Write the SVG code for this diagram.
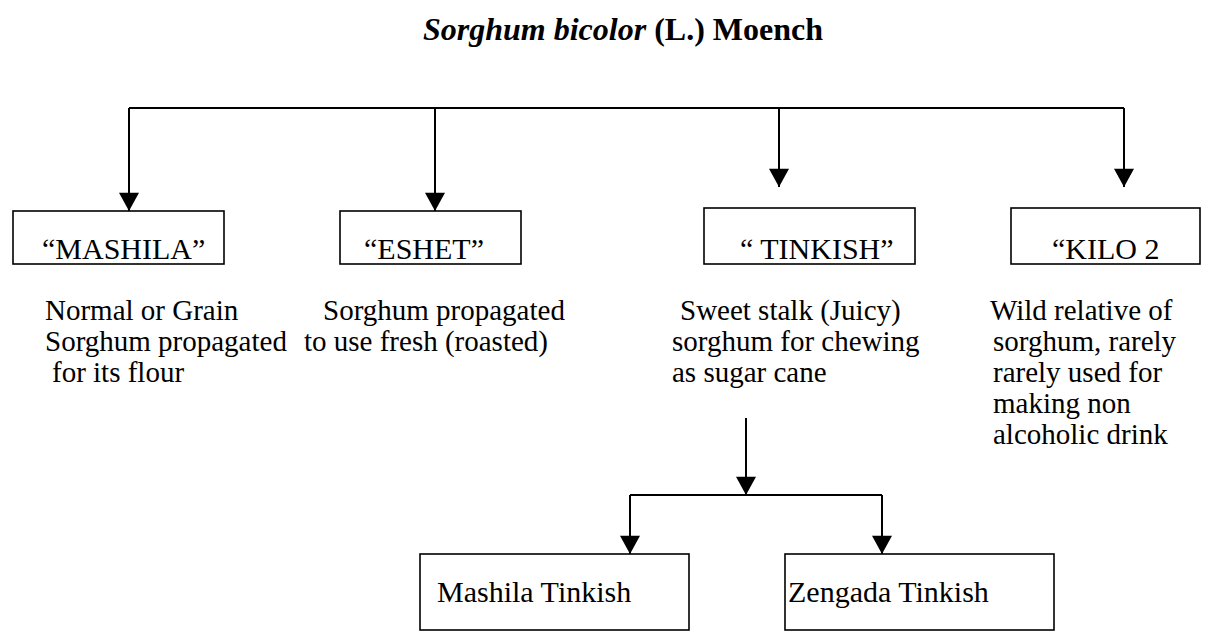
<svg xmlns="http://www.w3.org/2000/svg" width="1211" height="632" viewBox="0 0 1211 632" font-family="'Liberation Serif','Times New Roman',serif">
<defs>
<style>
.bx{fill:#fff;stroke:#000;stroke-width:1.6}
.t{font-family:'Liberation Serif','Times New Roman',serif;fill:#000}
.bt{font-size:30px}
.ds{font-size:29px}
.ttl{font-size:32px;font-weight:bold}
.cn{fill:none;stroke:#000;stroke-width:2}
</style>
<marker id="ah" viewBox="0 0 20 22" refX="20" refY="11" markerWidth="22" markerHeight="20" markerUnits="userSpaceOnUse" orient="auto">
<path d="M0,0 L20,11 L0,22 z" fill="#000"/>
</marker>
</defs>
<rect width="1211" height="632" fill="#fff"/>
<g id="title">
<text class="t ttl" x="623" y="40" text-anchor="middle"><tspan font-style="italic">Sorghum bicolor</tspan> (L.) Moench</text>
</g>
<g id="connectors">
<path class="cn" d="M129,108 H1124"/>
<path class="cn" d="M129,108 V211" marker-end="url(#ah)"/>
<path class="cn" d="M435,108 V211" marker-end="url(#ah)"/>
<path class="cn" d="M779,108 V187" marker-end="url(#ah)"/>
<path class="cn" d="M1124,108 V187" marker-end="url(#ah)"/>
<path class="cn" d="M746,418 V495" marker-end="url(#ah)"/>
<path class="cn" d="M630,495 H882"/>
<path class="cn" d="M630,495 V554" marker-end="url(#ah)"/>
<path class="cn" d="M882,495 V554" marker-end="url(#ah)"/>
</g>
<g id="mashila">
<rect class="bx" x="13" y="211" width="211" height="53"/>
<text class="t bt" x="42" y="259">“MASHILA”</text>
<text class="t ds"><tspan x="45" y="320">Normal or Grain</tspan><tspan x="45" y="351">Sorghum propagated</tspan><tspan x="52" y="382">for its flour</tspan></text>
</g>
<g id="eshet">
<rect class="bx" x="340" y="211" width="181" height="53"/>
<text class="t bt" x="364" y="259">“ESHET”</text>
<text class="t ds"><tspan x="323" y="320">Sorghum propagated</tspan><tspan x="304" y="351">to use fresh (roasted)</tspan></text>
</g>
<g id="tinkish">
<rect class="bx" x="704" y="208" width="211" height="56"/>
<text class="t bt" x="740" y="259">“ TINKISH”</text>
<text class="t ds"><tspan x="680" y="320">Sweet stalk (Juicy)</tspan><tspan x="672" y="351">sorghum for chewing</tspan><tspan x="672" y="382">as sugar cane</tspan></text>
</g>
<g id="kilo">
<rect class="bx" x="1011" y="208" width="189" height="56"/>
<text class="t bt" x="1052" y="259">“KILO 2</text>
<text class="t ds"><tspan x="990" y="320">Wild relative of</tspan><tspan x="993" y="351">sorghum, rarely</tspan><tspan x="993" y="382">rarely used for</tspan><tspan x="993" y="413">making non</tspan><tspan x="993" y="444">alcoholic drink</tspan></text>
</g>
<g id="mashila-tinkish">
<rect class="bx" x="420" y="554" width="269" height="76"/>
<text class="t bt" x="437" y="602">Mashila Tinkish</text>
</g>
<g id="zengada-tinkish">
<rect class="bx" x="785" y="554" width="269" height="76"/>
<text class="t bt" x="788" y="602">Zengada Tinkish</text>
</g>
</svg>
